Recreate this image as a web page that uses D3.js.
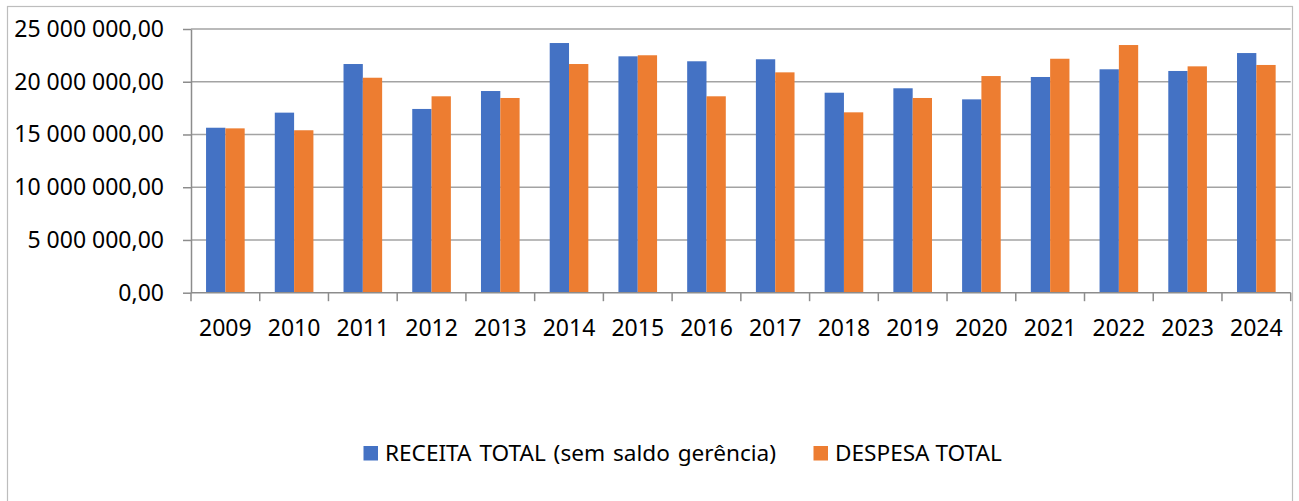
<!DOCTYPE html>
<html>
<head>
<meta charset="utf-8">
<script src="https://cdn.jsdelivr.net/npm/d3@7"></script>
<style>
  body { margin: 0; background: #fff; }
  svg text { font-family: 'Noto Sans', sans-serif; fill: #000; }
</style>
</head>
<body>
<div id="chart"></div>
<script>
var years = ['2009', '2010', '2011', '2012', '2013', '2014', '2015', '2016',
  '2017', '2018', '2019', '2020', '2021', '2022', '2023', '2024']
var receita = [15640000, 17070000, 21680000, 17420000, 19120000, 23670000, 22410000, 21940000,
  22130000, 18960000, 19380000, 18330000, 20450000, 21180000, 21020000, 22720000]
var despesa = [15580000, 15400000, 20380000, 18620000, 18460000, 21680000, 22510000, 18620000,
  20890000, 17100000, 18460000, 20540000, 22180000, 23480000, 21460000, 21590000]
var seriesNames = ['RECEITA TOTAL (sem saldo gerência)', 'DESPESA TOTAL']
var seriesColors = ['#4472C4', '#ED7D31']
var yTicks = [0, 5000000, 10000000, 15000000, 20000000, 25000000]

var width = 1299
var height = 501
var plot = { left: 191, right: 1290.7, top: 29, bottom: 292.7 }

var ptLocale = d3.formatLocale({ decimal: ',', thousands: ' ', grouping: [3], currency: ['', ''] })
var fmt = ptLocale.format(',.2f')

var svg = d3.select('#chart')
  .append('svg')
  .attr('width', width)
  .attr('height', height)
  .attr('viewBox', '0 0 ' + width + ' ' + height)

// chart frame (no bottom edge visible in the original)
svg.append('rect')
  .attr('x', 7.5)
  .attr('y', 6.5)
  .attr('width', 1285)
  .attr('height', 520)
  .attr('fill', 'none')
  .attr('stroke', '#bdbdbd')
  .attr('stroke-width', 1.2)

var x0 = d3.scaleBand()
  .domain(years)
  .range([plot.left, plot.right])
  .paddingInner(0.438)
  .paddingOuter(0.219)

var x1 = d3.scaleBand()
  .domain([0, 1])
  .range([0, x0.bandwidth()])

var y = d3.scaleLinear()
  .domain([0, 25000000])
  .range([plot.bottom, plot.top])

// gridlines
svg.append('g')
  .attr('class', 'grid')
  .selectAll('line')
  .data(yTicks.slice(1))
  .enter().append('line')
  .attr('x1', plot.left)
  .attr('x2', plot.right)
  .attr('y1', function (d) { return y(d) })
  .attr('y2', function (d) { return y(d) })
  .attr('stroke', '#a3a3a3')
  .attr('stroke-width', 1.4)

// bars
var series = [receita, despesa]
var groups = svg.append('g')
  .attr('class', 'bars')
  .selectAll('g')
  .data(years)
  .enter().append('g')
  .attr('transform', function (d) { return 'translate(' + x0(d) + ',0)' })

groups.selectAll('rect')
  .data(function (d, i) { return series.map(function (s, k) { return { k: k, v: s[i] } }) })
  .enter().append('rect')
  .attr('x', function (d) { return x1(d.k) })
  .attr('y', function (d) { return y(d.v) })
  .attr('width', x1.bandwidth())
  .attr('height', function (d) { return y(0) - y(d.v) })
  .attr('fill', function (d) { return seriesColors[d.k] })

// y axis
var yAxis = svg.append('g')
  .attr('transform', 'translate(' + plot.left + ',0)')
  .call(d3.axisLeft(y)
    .tickValues(yTicks)
    .tickSize(8)
    .tickSizeOuter(0)
    .tickPadding(19)
    .tickFormat(fmt))
yAxis.selectAll('line').attr('stroke', '#8c8c8c').attr('stroke-width', 1.5)
yAxis.select('.domain').attr('stroke', '#8c8c8c').attr('stroke-width', 1.5)
yAxis.selectAll('text')
  .style('font-family', "'Noto Sans', sans-serif")
  .style('font-size', '23px')

// x axis labels
var xAxis = svg.append('g')
  .attr('transform', 'translate(0,' + plot.bottom + ')')
  .call(d3.axisBottom(x0).tickSize(0).tickPadding(27))
xAxis.select('.domain').remove()
xAxis.selectAll('text')
  .style('font-family', "'Noto Sans', sans-serif")
  .style('font-size', '23px')

// x axis line and category boundary ticks
svg.append('line')
  .attr('x1', plot.left)
  .attr('x2', plot.right)
  .attr('y1', plot.bottom)
  .attr('y2', plot.bottom)
  .attr('stroke', '#8c8c8c')
  .attr('stroke-width', 1.5)

svg.append('g')
  .selectAll('line')
  .data(d3.range(years.length + 1))
  .enter().append('line')
  .attr('x1', function (i) { return plot.left + i * x0.step() })
  .attr('x2', function (i) { return plot.left + i * x0.step() })
  .attr('y1', plot.bottom)
  .attr('y2', plot.bottom + 8.5)
  .attr('stroke', '#8c8c8c')
  .attr('stroke-width', 1.5)

// legend
var legendX = [363.5, 813.5]
var legend = svg.append('g')
  .selectAll('g')
  .data(seriesNames)
  .enter().append('g')
  .attr('transform', function (d, i) { return 'translate(' + legendX[i] + ',446)' })

legend.append('rect')
  .attr('width', 14.5)
  .attr('height', 14.5)
  .attr('fill', function (d, i) { return seriesColors[i] })

legend.append('text')
  .attr('x', 21.5)
  .attr('y', 14.9)
  .style('font-size', '22.6px')
  .style('word-spacing', function (d, i) { return i === 0 ? '2px' : '0px' })
  .text(function (d) { return d })
</script>
</body>
</html>
